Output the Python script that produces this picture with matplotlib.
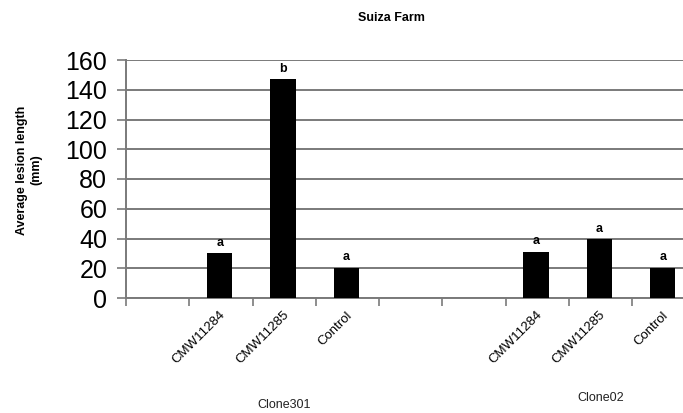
import numpy as np
import matplotlib.pyplot as plt
from matplotlib.transforms import ScaledTranslation

plt.rcParams['font.family'] = ['Liberation Sans', 'DejaVu Sans']

# Data
treatments = ['CMW11284', 'CMW11285', 'Control', 'CMW11284', 'CMW11285', 'Control']
slots = [1, 2, 3, 6, 7, 8]          # category slot of each bar (slots 0, 4, 5 are empty)
lesion = [30, 147, 20.5, 31, 39.5, 20.5]
letters = ['a', 'b', 'a', 'a', 'a', 'a']
clones = ['Clone301', 'Clone02']
clone_pos = [2.5, 7.5]

fig = plt.figure(figsize=(6.83, 4.13), dpi=100)
W, H = 683, 413
ax = fig.add_axes([126 / W, (H - 298) / H, (W - 126) / W, 238 / H])

x = np.array(slots) + 0.48
ax.bar(x, lesion, width=0.4, color='black', zorder=3)
for xi, v, s in zip(x, lesion, letters):
    ax.text(xi, v + 3, s, ha='center', va='bottom', fontsize=9, fontweight='bold')

ax.set_xlim(0, 8.8)
ax.set_ylim(0, 160)
ax.set_yticks(np.arange(0, 161, 20))
ax.yaxis.grid(True, color='#7a7a7a', linewidth=1.4, zorder=0)
ax.set_axisbelow(True)

for side in ['top', 'right']:
    ax.spines[side].set_visible(False)
for side in ['left', 'bottom']:
    ax.spines[side].set_color('#7a7a7a')
    ax.spines[side].set_linewidth(1.4)

ax.tick_params(axis='y', labelsize=18, length=6.5, width=1.2, color='#7a7a7a', pad=7)
ax.set_xticks(np.arange(0, 9))
ax.set_xticklabels([])
ax.tick_params(axis='x', which='major', length=6, width=1.2, color='#7a7a7a')

ax.set_xticks(x, minor=True)
ax.set_xticklabels(treatments, minor=True, rotation=45, ha='right', fontsize=9.5)
ax.tick_params(axis='x', which='minor', length=0, pad=8)
off = ScaledTranslation(8 / 100, 0, fig.dpi_scale_trans)
for lab in ax.get_xticklabels(minor=True):
    lab.set_transform(lab.get_transform() + off)

for name, p, yy in zip(clones, clone_pos, [405, 398]):
    ax.text(p, 1 - (yy - 60) / 238, name, transform=ax.get_xaxis_transform(),
            ha='center', va='center', fontsize=9, color='#222222')

fig.text(391 / W, 1 - 18 / H, 'Suiza Farm', ha='center', va='center',
         fontsize=9, fontweight='bold')
fig.text(29 / W, 1 - 170 / H, 'Average lesion length\n(mm)', ha='center', va='center',
         rotation=90, fontsize=9, fontweight='bold')

fig.savefig('out.png', dpi=100)
